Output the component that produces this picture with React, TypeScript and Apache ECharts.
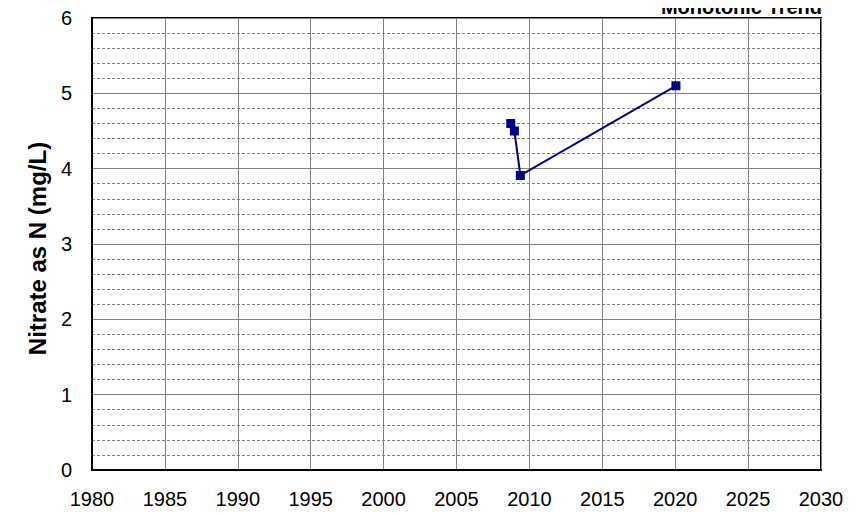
import React, { useEffect, useRef } from "react";
import * as echarts from "echarts";

const years = [2008.72, 2008.97, 2009.38, 2020.05];
const nitrate = [4.6, 4.5, 3.91, 5.1];
const titleText = "Monotonic Trend";
const yAxisTitle = "Nitrate as N (mg/L)";

export default function App() {
  const ref = useRef<HTMLDivElement>(null);
  useEffect(() => {
    if (!ref.current) return;
    const chart = echarts.init(ref.current, undefined, { renderer: "svg" });
    const data = years.map((y, i) => [y, nitrate[i]]);
    chart.setOption({
      animation: false,
      backgroundColor: "#fff",
      title: {
        text: titleText,
        right: 41,
        top: -3,
        padding: 0,
        textStyle: {
          color: "#000",
          fontSize: 20,
          fontWeight: "bold",
          fontFamily: "Arial",
        },
      },
      grid: {
        left: 92,
        right: 42,
        top: 18,
        bottom: 45,
        show: true,
        borderColor: "#000",
        borderWidth: 2,
        backgroundColor: "transparent",
      },
      xAxis: {
        type: "value",
        min: 1980,
        max: 2030,
        interval: 5,
        axisLine: { show: true, onZero: false, lineStyle: { color: "#000", width: 2 } },
        axisTick: { show: false },
        axisLabel: {
          color: "#000",
          fontSize: 20,
          fontFamily: "Arial",
          margin: 19,
          formatter: (v: number) => String(v),
        },
        splitLine: { show: true, lineStyle: { color: "#808080", width: 1 } },
      },
      yAxis: {
        type: "value",
        min: 0,
        max: 6,
        interval: 1,
        name: yAxisTitle,
        nameLocation: "middle",
        nameGap: 42,
        nameTextStyle: {
          color: "#000",
          fontSize: 24,
          fontWeight: "bold",
          fontFamily: "Arial",
          padding: [0, 9, 0, 0],
        },
        axisLine: { show: true, lineStyle: { color: "#000", width: 2 } },
        axisTick: { show: false },
        axisLabel: {
          color: "#000",
          fontSize: 20,
          fontFamily: "Arial",
          margin: 20,
        },
        splitLine: { show: true, lineStyle: { color: "#808080", width: 1 } },
        minorTick: { show: false, splitNumber: 5 },
        minorSplitLine: {
          show: true,
          lineStyle: { color: "#808080", width: 1, type: [3, 2] },
        },
      },
      series: [
        {
          type: "line",
          data,
          symbol: "rect",
          symbolSize: 9,
          itemStyle: { color: "#000080" },
          lineStyle: { color: "#000080", width: 2 },
        },
      ],
    });
    return () => chart.dispose();
  }, []);
  return <div ref={ref} style={{ width: 863, height: 515, margin: -8 }} />;
}
